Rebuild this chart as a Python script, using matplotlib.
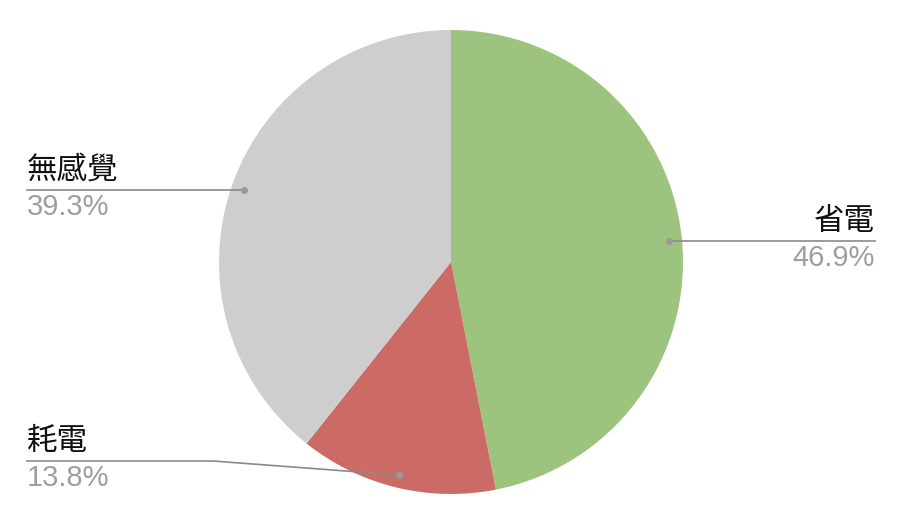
import numpy as np
import matplotlib
matplotlib.use('Agg')
import matplotlib.pyplot as plt

labels = ['省電', '耗電', '無感覺']
values = [46.9, 13.8, 39.3]
colors = ['#9dc47f', '#cc6b66', '#cecece']

W, H = 900, 520
cx, cy, R = 451, H - 262, 232

fig = plt.figure(figsize=(9, 5.2), dpi=100)
ax = fig.add_axes([0, 0, 1, 1])

wedges, _ = ax.pie(values, colors=colors, startangle=90, counterclock=False,
                   center=(cx, cy), radius=R, frame=True)
ax.set_xlim(0, W)
ax.set_ylim(0, H)
ax.set_aspect('equal')
ax.axis('off')

cjk = ['Noto Sans CJK TC', 'DejaVu Sans']
line_c = '#8a8a8a'

# label layout: (line y in px or None = same as dot, text x, alignment, elbow x)
layout = {
    '省電': (None, 875, 'right', None),
    '無感覺': (None, 27, 'left', None),
    '耗電': (461, 27, 'left', 213),
}

for w, lab, v in zip(wedges, labels, values):
    mid = np.deg2rad((w.theta1 + w.theta2) / 2)
    px = cx + 0.945 * R * np.cos(mid)
    py = cy + 0.945 * R * np.sin(mid)
    ly, tx, ha, elbow = layout[lab]
    ly = py if ly is None else H - ly
    if elbow is None:
        ax.plot([tx, px], [ly, py], color=line_c, lw=1.2)
    else:
        ax.plot([tx, elbow, px], [ly, ly, py], color=line_c, lw=1.2)
    ax.plot(px, py, 'o', color='#9a9a9a', ms=4)
    ax.text(tx, ly + 4, lab, ha=ha, va='bottom', fontsize=22, family=cjk,
            weight='medium', color='#111111')
    ax.text(tx, ly - 3, f'{v}%', ha=ha, va='top', fontsize=21,
            family=['Liberation Sans', 'DejaVu Sans'], color='#9e9e9e')

fig.savefig('out.png', dpi=100, facecolor='white')
